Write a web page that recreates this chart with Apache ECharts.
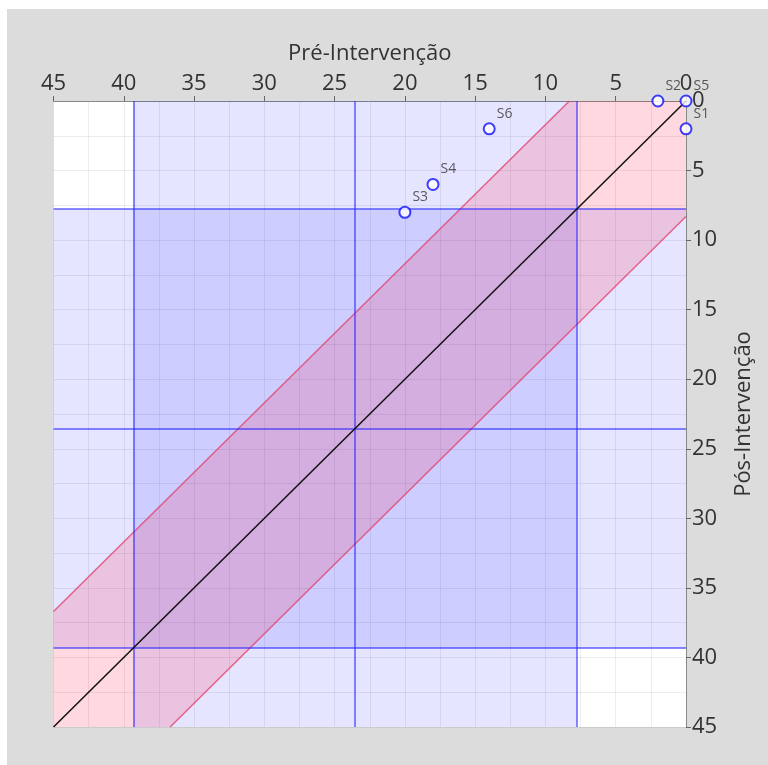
<!DOCTYPE html>
<html>
<head>
<meta charset="utf-8">
<script src="https://cdn.jsdelivr.net/npm/echarts@6/dist/echarts.min.js"></script>
<style>
  html, body { margin: 0; padding: 0; background: #ffffff; }
  #panel { position: absolute; left: 7px; top: 9px; width: 761px; height: 756px; background: #dcdcdc; }
  #chart { position: absolute; left: 0; top: 0; width: 768px; height: 765px; }
</style>
</head>
<body>
<div id="panel"></div>
<div id="chart"></div>
<script>
// Subjects and their scores before / after the intervention
const subjects = ['S1', 'S2', 'S3', 'S4', 'S5', 'S6'];
const preScores = [0, 2, 20, 18, 0, 14];
const postScores = [2, 0, 8, 6, 0, 2];

// Reference lines: mean - SD, mean, mean + SD
const refLines = [7.78, 23.55, 39.32];
// Half-width of the reliable-change band around the identity line
const bandHalfWidth = 8.3;
// Axis range and tick step
const axisMin = 0;
const axisMax = 45;
const tickStep = 5;

const FONT = '"Open Sans", "Noto Sans", sans-serif';
const gridLineStyle = { color: 'rgba(0,0,0,0.07)', width: 1 };

// Band polygon in data space: post between pre - d and pre + d, clipped to the axis square
const d = bandHalfWidth;
const bandPolygon = [
  [axisMin, axisMin], [axisMin, d], [axisMax - d, axisMax],
  [axisMax, axisMax], [axisMax, axisMax - d], [d, axisMin]
];

const points = subjects.map((s, i) => ({ name: s, value: [preScores[i], postScores[i]] }));

const chart = echarts.init(document.getElementById('chart'), null, { renderer: 'canvas' });

chart.setOption({
  animation: false,
  backgroundColor: 'transparent',
  textStyle: { fontFamily: FONT },
  grid: { left: 53.5, right: 82, top: 101, bottom: 38, show: true, backgroundColor: '#ffffff', borderWidth: 0 },
  xAxis: {
    type: 'value', position: 'top', inverse: true,
    min: axisMin, max: axisMax, interval: tickStep,
    name: 'Pré-Intervenção', nameLocation: 'middle', nameGap: 36,
    nameTextStyle: { fontSize: 22, color: '#333', fontFamily: FONT },
    axisLine: { show: true, onZero: false, lineStyle: { color: '#888', width: 1 } },
    axisTick: { show: true, length: 5, lineStyle: { color: '#666' } },
    axisLabel: { fontSize: 22, color: '#333', margin: 6, fontFamily: FONT },
    splitLine: { show: true, lineStyle: gridLineStyle },
    minorTick: { show: false, splitNumber: 2 },
    minorSplitLine: { show: true, lineStyle: gridLineStyle }
  },
  yAxis: {
    type: 'value', position: 'right', inverse: true,
    min: axisMin, max: axisMax, interval: tickStep,
    name: 'Pós-Intervenção', nameLocation: 'middle', nameGap: 47, nameRotate: 90,
    nameTextStyle: { fontSize: 22, color: '#333', fontFamily: FONT },
    axisLine: { show: true, onZero: false, lineStyle: { color: '#888', width: 1 } },
    axisTick: { show: true, length: 5, lineStyle: { color: '#666' } },
    axisLabel: { fontSize: 22, color: '#333', margin: 6, fontFamily: FONT },
    splitLine: { show: true, lineStyle: gridLineStyle },
    minorTick: { show: false, splitNumber: 2 },
    minorSplitLine: { show: true, lineStyle: gridLineStyle }
  },
  series: [
    // Blue strips between mean - SD and mean + SD on each axis
    {
      type: 'line', data: [], silent: true, z: 1,
      markArea: {
        silent: true,
        itemStyle: { color: 'rgba(0,0,255,0.1)' },
        data: [
          [{ xAxis: refLines[0] }, { xAxis: refLines[2] }],
          [{ yAxis: refLines[0] }, { yAxis: refLines[2] }]
        ]
      }
    },
    // Pink band around the identity line
    {
      type: 'custom', z: 2, silent: true,
      data: [[0, 0]],
      renderItem: (params, api) => ({
        type: 'polygon',
        shape: { points: bandPolygon.map(p => api.coord(p)) },
        style: { fill: 'rgba(255,0,40,0.15)' }
      })
    },
    // Band edges
    {
      type: 'line', z: 3, silent: true, symbol: 'none',
      lineStyle: { color: 'rgba(225,60,100,0.75)', width: 1.5 },
      data: [[d, axisMin], [axisMax, axisMax - d]]
    },
    {
      type: 'line', z: 3, silent: true, symbol: 'none',
      lineStyle: { color: 'rgba(225,60,100,0.75)', width: 1.5 },
      data: [[axisMin, d], [axisMax - d, axisMax]]
    },
    // Reference lines
    {
      type: 'line', data: [], silent: true, z: 4,
      markLine: {
        silent: true, symbol: 'none', label: { show: false },
        lineStyle: { color: 'rgba(40,40,255,0.55)', width: 2, type: 'solid' },
        data: refLines.map(v => ({ xAxis: v })).concat(refLines.map(v => ({ yAxis: v })))
      }
    },
    // Identity line
    {
      type: 'line', z: 5, silent: true, symbol: 'none',
      lineStyle: { color: '#111', width: 1.5 },
      data: [[axisMin, axisMin], [axisMax, axisMax]]
    },
    // Subjects
    {
      type: 'scatter', z: 10, clip: false,
      symbol: 'circle', symbolSize: 11,
      itemStyle: { color: '#ffffff', borderColor: '#1010ff', borderWidth: 2 },
      label: {
        show: true, position: 'right', distance: 1, offset: [0, -15],
        formatter: p => p.name, fontSize: 14, color: '#333', fontFamily: FONT
      },
      data: points
    }
  ]
});
</script>
</body>
</html>
